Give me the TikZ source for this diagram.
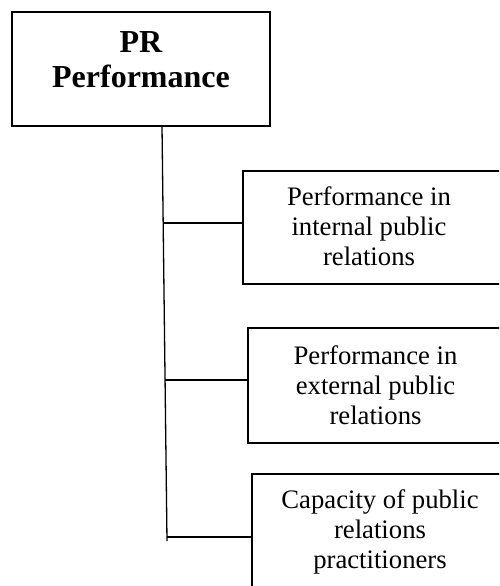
\documentclass[tikz,border=0pt]{standalone}
\usepackage{fontspec}
\setmainfont{Liberation Serif}
\begin{document}
\begin{tikzpicture}[x=1pt,y=-1pt,
  boxstyle/.style={draw=black,line width=1.3pt,rectangle,inner sep=0pt},
  childtext/.style={align=center,font=\fontsize{26.7}{30}\selectfont,inner sep=0pt},
  titletext/.style={align=center,font=\fontsize{32}{35}\selectfont\bfseries,inner sep=0pt},
  linkstyle/.style={draw=black,line width=1.3pt}]
\useasboundingbox (0,0) rectangle (499,586);
\clip (0,0) rectangle (499,586);
% top box
\node[boxstyle,minimum width=258pt,minimum height=114pt] (top) at (141,69) {};
\node[titletext] (toptext) at (141,60) {PR\\Performance};
% child boxes
\node[boxstyle,minimum width=258pt,minimum height=113pt] (b1) at (372,227.5) {};
\node[childtext] (b1text) at (369,226.5) {Performance in\\internal public\\relations};
\node[boxstyle,minimum width=255pt,minimum height=115pt,childtext] (b2) at (375.5,385.5)
  {Performance in\\external public\\relations};
\node[boxstyle,minimum width=256pt,minimum height=115pt,childtext] (b3) at (380,531.5)
  {Capacity of public\\relations\\practitioners};
% spine
\coordinate (st) at (162,126);
\coordinate (sb) at (167,541);
\draw[linkstyle] (st) -- (sb);
\coordinate (s1) at (163.2,223);
\coordinate (s2) at (165.1,380);
\coordinate (s3) at (167,537);
\draw[linkstyle] (s1) -- (s1 -| b1.west);
\draw[linkstyle] (s2) -- (s2 -| b2.west);
\draw[linkstyle] (s3) -- (s3 -| b3.west);
\end{tikzpicture}
\end{document}
